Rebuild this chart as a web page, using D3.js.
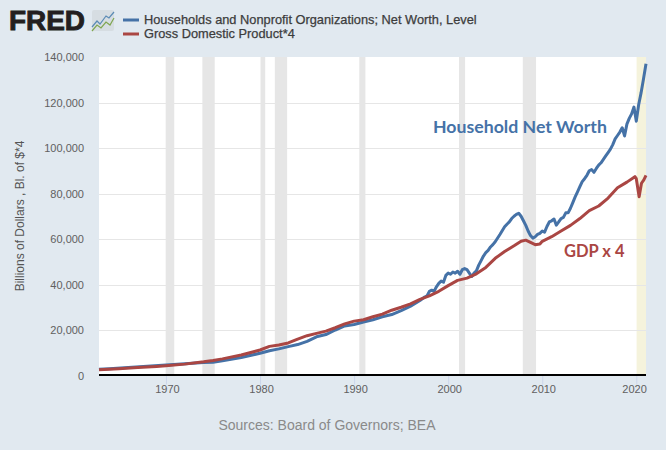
<!DOCTYPE html>
<html><head><meta charset="utf-8">
<script src="https://cdn.jsdelivr.net/npm/d3@7/dist/d3.min.js"></script>
<style>html,body{margin:0;padding:0;background:#e1e9f0}svg{display:block}</style></head>
<body><svg id="c" width="666" height="450"></svg>
<script>
const netWorthYears=[1962.88,1964,1966,1968,1970,1972,1974,1975,1976,1978,1980,1981,1982,1983,1984,1985,1986,1987,1988,1989,1990,1991,1992,1993,1994,1995,1996,1997,1997.5,1997.75,1998,1998.25,1998.5,1998.75,1999,1999.25,1999.5,1999.75,2000,2000.25,2000.5,2000.75,2001,2001.25,2001.5,2001.75,2002,2002.25,2002.5,2002.75,2003,2003.25,2003.5,2003.75,2004,2004.25,2004.5,2004.75,2005,2005.5,2006,2006.25,2006.5,2006.75,2007,2007.25,2007.5,2007.75,2008,2008.25,2008.5,2008.75,2009,2009.25,2009.5,2009.75,2010,2010.25,2010.5,2010.75,2011,2011.25,2011.5,2011.75,2012,2012.25,2012.5,2012.75,2013,2013.25,2013.5,2013.75,2014,2014.25,2014.5,2014.75,2015,2015.25,2015.5,2015.75,2016,2016.25,2016.5,2016.75,2017,2017.25,2017.5,2017.75,2018,2018.25,2018.5,2018.75,2019,2019.25,2019.5,2019.75,2020,2020.25,2020.5,2020.75,2021.03];
const netWorthValues=[2700,3000,3500,4100,4600,5200,5700,5800,6500,7900,9800,10900,11700,12700,13600,15000,17000,18000,20000,21800,22400,23500,24500,25800,26800,28500,30500,33000,34500,35000,37000,37500,37000,39000,40500,41500,41000,44000,45000,44500,45500,45000,45800,44500,46500,47000,46500,45000,43500,45000,46000,48500,50500,52500,54000,55000,56500,57500,58800,62000,65400,66500,67500,69000,70000,70800,71300,70000,68000,66000,63500,61500,60400,61000,62000,62500,63500,63000,65500,67500,68000,68800,66100,67500,69000,69500,71500,71500,73500,76000,78500,80700,83000,85200,86500,88000,90000,90500,89300,91000,92500,93500,95000,96500,98000,99500,101500,104000,105500,107000,108900,105300,110500,113000,115000,118000,111800,119000,124100,130000,137000];
const gdpYears=[1962.88,1965,1967,1969,1970,1972,1974,1975,1976,1978,1980,1981,1982,1983,1984,1985,1986,1987,1988,1989,1990,1991,1992,1993,1994,1995,1996,1997,1998,1999,2000,2001,2002,2003,2004,2005,2006,2007,2007.75,2008.25,2008.75,2009.25,2009.75,2010,2011,2012,2013,2014,2015,2016,2017,2018,2019,2019.85,2020,2020.3,2020.55,2020.8,2021.03];
const gdpValues=[2500,3000,3500,4000,4300,5000,6000,6600,7300,9000,11200,12800,13400,14300,16000,17500,18500,19500,21000,22700,23900,24500,25800,27000,28700,30000,31500,33500,35000,37000,39500,41800,42800,44700,47500,51500,54500,57000,59000,59500,58500,57500,57800,59000,61000,63500,66000,69000,72500,74500,78000,82500,85000,87400,86500,78600,84500,86000,88000];
const recessions=[[1969.97,1970.88],[1973.87,1975.18],[1980.05,1980.55],[1981.57,1982.88],[1990.55,1991.2],[2001.15,2001.8],[2007.93,2009.34]];
const covidBand=[2020.03,2021.03];
const yTicks=[0,20000,40000,60000,80000,100000,120000,140000];
const xTicks=[1970,1980,1990,2000,2010,2020];
const legendLabels=["Households and Nonprofit Organizations; Net Worth, Level","Gross Domestic Product*4"];
const blue="#4572a7",red="#aa4643",sans="'Liberation Sans',Arial,sans-serif",anno="Lato,'Open Sans',sans-serif";

const svg=d3.select("#c");
const x=d3.scaleLinear().domain([1962.88,2021.03]).range([99,646]);
const y=d3.scaleLinear().domain([0,140000]).range([375.5,57]);

svg.append("rect").attr("x",99).attr("y",57).attr("width",547).attr("height",318.5).attr("fill","#fff");
const bands=svg.append("g");
bands.selectAll("rect").data(recessions).join("rect")
 .attr("x",d=>x(d[0])).attr("y",57).attr("width",d=>x(d[1])-x(d[0])).attr("height",318.5).attr("fill","#e6e6e6");
bands.append("rect").attr("x",x(covidBand[0])).attr("y",57).attr("width",x(covidBand[1])-x(covidBand[0])).attr("height",318.5).attr("fill","#f5f3dc");

const yAxis=svg.append("g").attr("transform","translate(99,0)")
 .call(d3.axisLeft(y).tickValues(yTicks).tickSize(0).tickPadding(15).tickFormat(d3.format(",")));
yAxis.select(".domain").remove();
yAxis.selectAll("text").attr("font-family",sans).attr("font-size",11).attr("fill","#606060");
svg.append("g").selectAll("line").data(yTicks.filter(d=>d>0&&d<140000)).join("line")
 .attr("x1",99).attr("x2",646).attr("y1",d=>Math.round(y(d))+.5).attr("y2",d=>Math.round(y(d))+.5)
 .attr("stroke","#e6e6e6").attr("stroke-width",1);

const xAxis=svg.append("g").attr("transform","translate(0,376)")
 .call(d3.axisBottom(x).tickValues(xTicks).tickSize(8.5).tickPadding(1).tickFormat(d3.format("d")));
xAxis.select(".domain").remove();
xAxis.selectAll("line").attr("stroke","#ccd6eb");
xAxis.selectAll("text").attr("font-family",sans).attr("font-size",11).attr("fill","#606060")
 .attr("text-anchor",d=>d===2020?"end":"middle").attr("dx",d=>d===2020?10:1);

const line=d3.line().x(d=>x(d[0])).y(d=>y(d[1]));
const nw=d3.zip(netWorthYears,netWorthValues), gdp=d3.zip(gdpYears,gdpValues);
svg.append("path").attr("d",line(nw)).attr("fill","none").attr("stroke",blue).attr("stroke-width",3).attr("stroke-linejoin","round");
svg.append("path").attr("d",line(gdp)).attr("fill","none").attr("stroke",red).attr("stroke-width",3).attr("stroke-linejoin","round");

svg.append("line").attr("x1",99).attr("x2",646).attr("y1",375).attr("y2",375).attr("stroke","#000").attr("stroke-width",2);

svg.append("text").attr("transform","translate(24,216) rotate(-90)").attr("text-anchor","middle")
 .attr("font-family",sans).attr("font-size",12).attr("fill","#555").text("Billions of Dollars , Bl. of $*4");
svg.append("text").attr("x",327).attr("y",430).attr("text-anchor","middle").attr("font-family",sans)
 .attr("font-size",14).attr("fill","#8a8a8a").text("Sources: Board of Governors; BEA");

svg.append("text").attr("x",433).attr("y",133).attr("font-family",anno).attr("font-weight",700)
 .attr("font-size",17.7).attr("fill",blue).text("Household Net Worth");
svg.append("text").attr("x",564).attr("y",257).attr("font-family",anno).attr("font-weight",700)
 .attr("font-size",16.5).attr("fill",red).text("GDP x 4");

// legend
const lg=svg.append("g");
[blue,red].forEach((c,i)=>{
 lg.append("line").attr("x1",123).attr("x2",139).attr("y1",20+i*14).attr("y2",20+i*14).attr("stroke",c).attr("stroke-width",3);
 lg.append("text").attr("x",144).attr("y",24+i*14).attr("font-family",sans).attr("font-size",12.8).attr("font-weight",400)
  .attr("fill","#3c3c3c").attr("stroke","#3c3c3c").attr("stroke-width",.25).text(legendLabels[i]);
});

// FRED logo
svg.append("text").attr("x",9).attr("y",30).attr("font-family",sans).attr("font-weight",700).attr("font-size",27)
 .attr("fill","#231f20").attr("stroke","#231f20").attr("stroke-width",.9).attr("textLength",76).attr("lengthAdjust","spacingAndGlyphs").text("FRED");
const logo=svg.append("g").attr("transform","translate(92,10)");
logo.append("rect").attr("width",22).attr("height",21).attr("rx",2).attr("fill","#d6dde2");
const logoBlue=[[0,17],[5,11],[8,14],[14,6],[17,8],[22,2]], logoGreen=[[0,21],[5,15],[9,18],[14,12],[18,15],[22,8]];
const logoLine=d3.line();
logo.append("path").attr("d",logoLine(logoBlue)).attr("fill","none").attr("stroke","#5b8bb5").attr("stroke-width",1.2);
logo.append("path").attr("d",logoLine(logoGreen)).attr("fill","none").attr("stroke","#7fa650").attr("stroke-width",1.2);
</script></body></html>
